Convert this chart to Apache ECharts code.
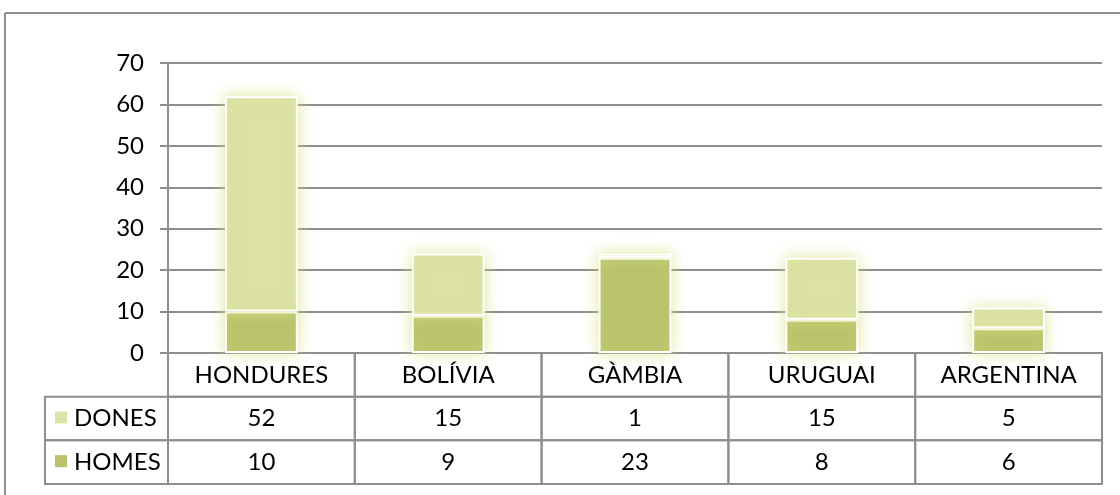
<!DOCTYPE html>
<html>
<head>
<meta charset="utf-8">
<script src="https://cdn.jsdelivr.net/npm/echarts@6/dist/echarts.min.js"></script>
<style>
  html, body { margin: 0; padding: 0; background: #fff; }
  #chart { width: 1120px; height: 495px; }
</style>
</head>
<body>
<div id="chart"></div>
<script>
// Country categories and counts per group
const countries = ['HONDURES', 'BOLÍVIA', 'GÀMBIA', 'URUGUAI', 'ARGENTINA'];
const seriesNames = ['DONES', 'HOMES'];
const dones = [52, 15, 1, 15, 5];
const homes = [10, 9, 23, 8, 6];
const yTicks = { min: 0, max: 70, interval: 10 };

const colorDones = '#dce2a6';
const colorHomes = '#bac36c';
const lineGray = '#8e8e8e';
const FONT = 'Lato, "Open Sans", sans-serif';
const FS = 24;

// Cells for the data table under the plot: header row, one row per series
const tableRows = ['', seriesNames[0], seriesNames[1]];
const tableCells = [];
countries.forEach((c, i) => tableCells.push([i, 0, c, 'cell']));
dones.forEach((v, i) => tableCells.push([i, 1, String(v), 'cell']));
homes.forEach((v, i) => tableCells.push([i, 2, String(v), 'cell']));
tableCells.push([0, 1, seriesNames[0], 'legend']);
tableCells.push([0, 2, seriesNames[1], 'legend']);
const legendColors = { DONES: colorDones, HOMES: colorHomes };

const chart = echarts.init(document.getElementById('chart'));

const barStyle = (color) => ({
  color: color,
  borderColor: '#ffffff',
  borderWidth: 2,
  shadowBlur: 14,
  shadowColor: 'rgba(214, 226, 130, 0.75)'
});

chart.setOption({
  animation: false,
  backgroundColor: '#ffffff',
  grid: [
    { left: 168, right: 18, top: 63, bottom: 142 },
    { left: 168, right: 18, top: 353, bottom: 11 }
  ],
  xAxis: [
    {
      type: 'category', gridIndex: 0, data: countries,
      axisLine: { lineStyle: { color: lineGray, width: 2 } },
      axisTick: { show: false }, axisLabel: { show: false }
    },
    {
      type: 'category', gridIndex: 1, data: countries,
      axisLine: { show: false }, axisTick: { show: false }, axisLabel: { show: false }
    }
  ],
  yAxis: [
    {
      type: 'value', gridIndex: 0, min: yTicks.min, max: yTicks.max, interval: yTicks.interval,
      axisLine: { show: true, lineStyle: { color: lineGray, width: 2 } },
      axisTick: { show: true, length: 8, lineStyle: { color: lineGray, width: 2 } },
      axisLabel: { color: '#000', fontSize: FS, fontFamily: FONT, margin: 24 },
      splitLine: { lineStyle: { color: lineGray, width: 2 } }
    },
    {
      type: 'category', gridIndex: 1, data: tableRows, inverse: true,
      axisLine: { show: false }, axisTick: { show: false }, axisLabel: { show: false }
    }
  ],
  series: [
    {
      name: seriesNames[1], type: 'bar', stack: 'total', data: homes,
      xAxisIndex: 0, yAxisIndex: 0, barWidth: '39%',
      itemStyle: barStyle(colorHomes)
    },
    {
      name: seriesNames[0], type: 'bar', stack: 'total', data: dones,
      xAxisIndex: 0, yAxisIndex: 0, barWidth: '39%',
      itemStyle: barStyle(colorDones)
    },
    {
      type: 'custom', xAxisIndex: 1, yAxisIndex: 1, data: tableCells, clip: false,
      renderItem: function (params, api) {
        const col = api.value(0), row = api.value(1);
        const item = tableCells[params.dataIndex];
        const text = item[2], kind = item[3];
        const c = api.coord([col, row]);
        const s = api.size([1, 1]);
        const top = c[1] - s[1] / 2;
        if (kind === 'legend') {
          const x0 = 45, x1 = params.coordSys.x;
          return {
            type: 'group',
            children: [
              { type: 'rect', shape: { x: x0, y: top, width: x1 - x0, height: s[1] },
                style: { fill: 'none', stroke: lineGray, lineWidth: 2 } },
              { type: 'rect', shape: { x: 55, y: c[1] - 7, width: 12, height: 12 },
                style: { fill: legendColors[text] } },
              { type: 'text', style: { text: text, x: 74, y: c[1], align: 'left', verticalAlign: 'middle',
                  fontSize: FS, fontFamily: FONT, fill: '#000' } }
            ]
          };
        }
        return {
          type: 'group',
          children: [
            { type: 'rect', shape: { x: c[0] - s[0] / 2, y: top, width: s[0], height: s[1] },
              style: { fill: 'none', stroke: lineGray, lineWidth: 2 } },
            { type: 'text', style: { text: text, x: c[0], y: c[1], align: 'center', verticalAlign: 'middle',
                fontSize: FS, fontFamily: FONT, fill: '#000' } }
          ]
        };
      }
    }
  ],
  graphic: [
    { type: 'line', shape: { x1: 5, y1: 13, x2: 1120, y2: 13 }, style: { stroke: lineGray, lineWidth: 2 } },
    { type: 'line', shape: { x1: 5, y1: 13, x2: 5, y2: 495 }, style: { stroke: lineGray, lineWidth: 2 } }
  ]
});
</script>
</body>
</html>
